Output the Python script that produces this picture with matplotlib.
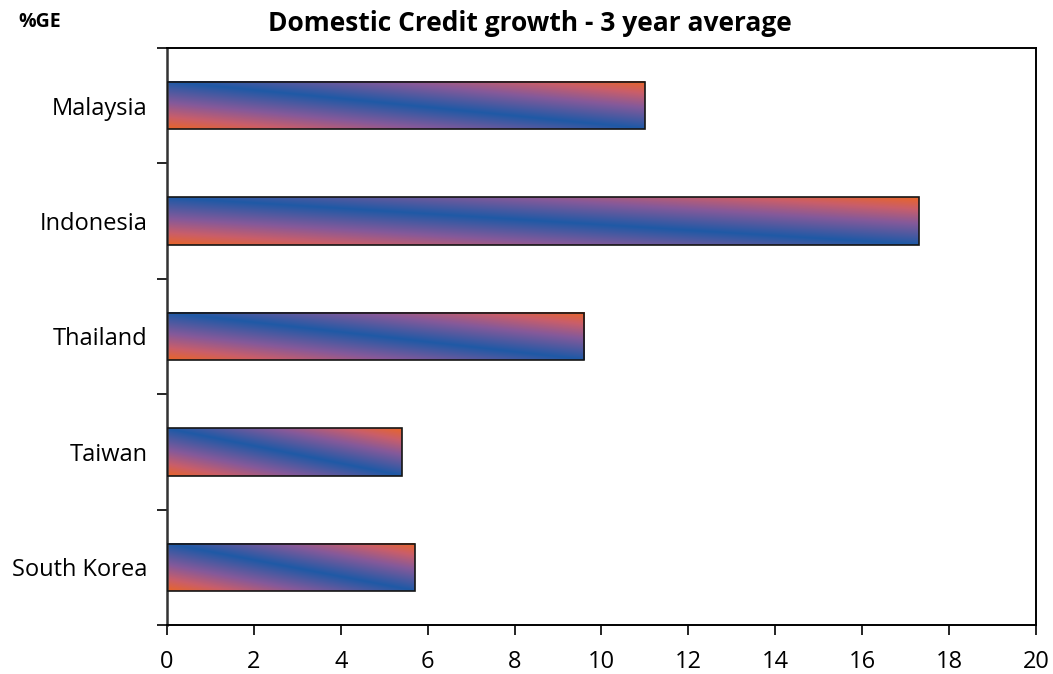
import matplotlib
matplotlib.use("Agg")
import matplotlib.pyplot as plt
import numpy as np
from matplotlib.colors import LinearSegmentedColormap

plt.rcParams['font.family'] = ['Open Sans', 'DejaVu Sans']

# Domestic credit growth, 3 year average (%)
countries = ["Malaysia", "Indonesia", "Thailand", "Taiwan", "South Korea"]
growth = [11.0, 17.3, 9.6, 5.4, 5.7]
xticks = [0, 2, 4, 6, 8, 10, 12, 14, 16, 18, 20]

orange = "#e8652a"
blue = "#1f5aa6"
cmap = LinearSegmentedColormap.from_list(
    "ob", [(0.0, blue), (0.45, "#85599a"), (0.75, "#c95e6a"), (1.0, orange)])

fig = plt.figure(figsize=(10.53, 6.74), dpi=100)
ax = fig.add_axes([0.1586, 0.0727, 0.8252, 0.8561])

ypos = np.arange(len(countries))[::-1]
bar_h = 0.41

bars = ax.barh(ypos, growth, height=bar_h, facecolor="none",
               edgecolor="#151515", linewidth=1.2, zorder=3)

# diagonal gradient fill: blue along the top-left -> bottom-right diagonal
for rect in bars:
    x0, y0 = rect.get_x(), rect.get_y()
    w, h = rect.get_width(), rect.get_height()
    u = np.linspace(0, 1, 300)[None, :]
    v = np.linspace(0, 1, 60)[:, None]
    t = np.abs(u - v)
    ax.imshow(t, cmap=cmap, vmin=0, vmax=1, origin="upper", aspect="auto",
              extent=(x0, x0 + w, y0, y0 + h), interpolation="bilinear",
              zorder=2)

ax.set_xlim(0, 20)
ax.set_ylim(-0.5, len(countries) - 0.5)
ax.set_xticks(xticks)
ax.set_xticklabels([str(v) for v in xticks], fontsize=17)
ax.tick_params(axis="x", direction="out", length=7, width=1.2, pad=11)

# category boundaries get ticks, labels sit on minor ticks
ax.set_yticks(np.arange(-0.5, len(countries), 1.0))
ax.set_yticklabels([])
ax.tick_params(axis="y", which="major", direction="out", length=7, width=1.2)
ax.set_yticks(ypos, minor=True)
ax.set_yticklabels(countries, minor=True, fontsize=17)
ax.tick_params(axis="y", which="minor", length=0, pad=14)

for side in ["top", "right", "bottom"]:
    ax.spines[side].set_linewidth(1.4)
    ax.spines[side].set_color("black")
ax.spines["left"].set_linewidth(1.8)
ax.spines["left"].set_color("#333333")

fig.text(0.503, 0.965, "Domestic Credit growth - 3 year average",
         ha="center", va="center", fontsize=19, fontweight="bold")
fig.text(0.017, 0.968, "%GE", ha="left", va="center", fontsize=14,
         fontweight="bold")

fig.savefig("out.png", dpi=100)
